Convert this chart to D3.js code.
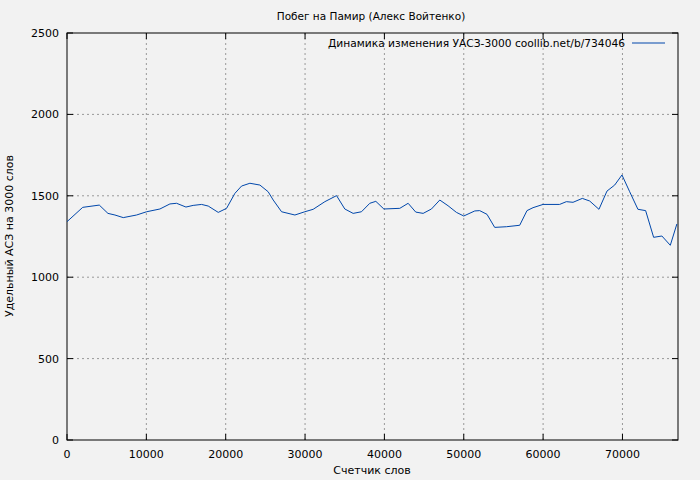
<!DOCTYPE html>
<html><head><meta charset="utf-8"><script src="https://cdn.jsdelivr.net/npm/d3@7"></script>
<style>body{margin:0;background:#f2f2f2}svg{font-family:"DejaVu Sans",sans-serif}</style></head>
<body><svg id="c" width="700" height="480"></svg>
<script>
const xs=[0,1980,4070,5160,6040,7090,8770,10030,11710,12970,13810,14990,15900,16960,17800,19060,20110,21160,22000,23050,24310,25350,25990,27040,28720,29970,31020,32500,33970,35010,36060,37110,38160,38920,39930,41940,42990,43950,44880,45930,46980,48020,49080,50000,51390,52010,52930,53900,55380,57050,57970,58730,59990,62080,62930,63770,64940,65870,67040,68050,69020,69940,70910,71950,72920,73930,74970,76030,76860];
const vs=[1341,1429,1443,1392,1382,1366,1382,1402,1419,1450,1454,1431,1441,1447,1437,1398,1423,1515,1560,1577,1566,1525,1474,1402,1382,1402,1417,1464,1501,1419,1392,1402,1454,1466,1419,1423,1454,1400,1392,1419,1474,1439,1398,1376,1407,1409,1386,1306,1310,1319,1409,1427,1447,1447,1464,1460,1484,1468,1417,1529,1566,1628,1525,1417,1409,1245,1253,1196,1327];
const xTicks=[0,10000,20000,30000,40000,50000,60000,70000];
const yTicks=[0,500,1000,1500,2000,2500];
const title="Побег на Памир (Алекс Войтенко)";
const legend="Динамика изменения УАСЗ-3000 coollib.net/b/734046";
const svg=d3.select("#c");
const L=67,R=678,T=33,B=440;
const x=d3.scaleLinear().domain([0,77000]).range([L,R]);
const y=d3.scaleLinear().domain([0,2500]).range([B,T]);
const g=svg.append("g");
xTicks.forEach(t=>{ if(t>0) g.append("line").attr("x1",x(t)).attr("x2",x(t)).attr("y1",T).attr("y2",B).attr("stroke","#999").attr("stroke-dasharray","2,3");
 g.append("line").attr("x1",x(t)).attr("x2",x(t)).attr("y1",B).attr("y2",B-6).attr("stroke","#000");
 g.append("line").attr("x1",x(t)).attr("x2",x(t)).attr("y1",T).attr("y2",T+6).attr("stroke","#000");
 g.append("text").attr("x",x(t)).attr("y",B+18).attr("text-anchor","middle").attr("font-size",11).text(t);});
yTicks.forEach(t=>{ if(t>0&&t<2500) g.append("line").attr("x1",L).attr("x2",R).attr("y1",y(t)).attr("y2",y(t)).attr("stroke","#999").attr("stroke-dasharray","2,3");
 g.append("line").attr("x1",L).attr("x2",L+6).attr("y1",y(t)).attr("y2",y(t)).attr("stroke","#000");
 g.append("line").attr("x1",R).attr("x2",R-6).attr("y1",y(t)).attr("y2",y(t)).attr("stroke","#000");
 g.append("text").attr("x",L-8).attr("y",y(t)+4).attr("text-anchor","end").attr("font-size",11).text(t);});
g.append("rect").attr("x",L).attr("y",T).attr("width",R-L).attr("height",B-T).attr("fill","none").attr("stroke","#000");
const data=xs.map((d,i)=>[d,vs[i]]);
g.append("path").datum(data).attr("d",d3.line().x(d=>x(d[0])).y(d=>y(d[1]))).attr("fill","none").attr("stroke","#0047ab").attr("stroke-width",1);
svg.append("text").attr("x",371).attr("y",20).attr("text-anchor","middle").attr("font-size",10.5).text(title);
svg.append("text").attr("x",372).attr("y",474).attr("text-anchor","middle").attr("font-size",11).text("Счетчик слов");
svg.append("text").attr("transform","translate(13,236) rotate(-90)").attr("text-anchor","middle").attr("font-size",11).text("Удельный АСЗ на 3000 слов");
svg.append("text").attr("x",625).attr("y",47).attr("text-anchor","end").attr("font-size",11).attr("textLength",297).attr("lengthAdjust","spacingAndGlyphs").text(legend);
svg.append("line").attr("x1",632).attr("x2",665).attr("y1",43).attr("y2",43).attr("stroke","#0047ab");
</script></body></html>
